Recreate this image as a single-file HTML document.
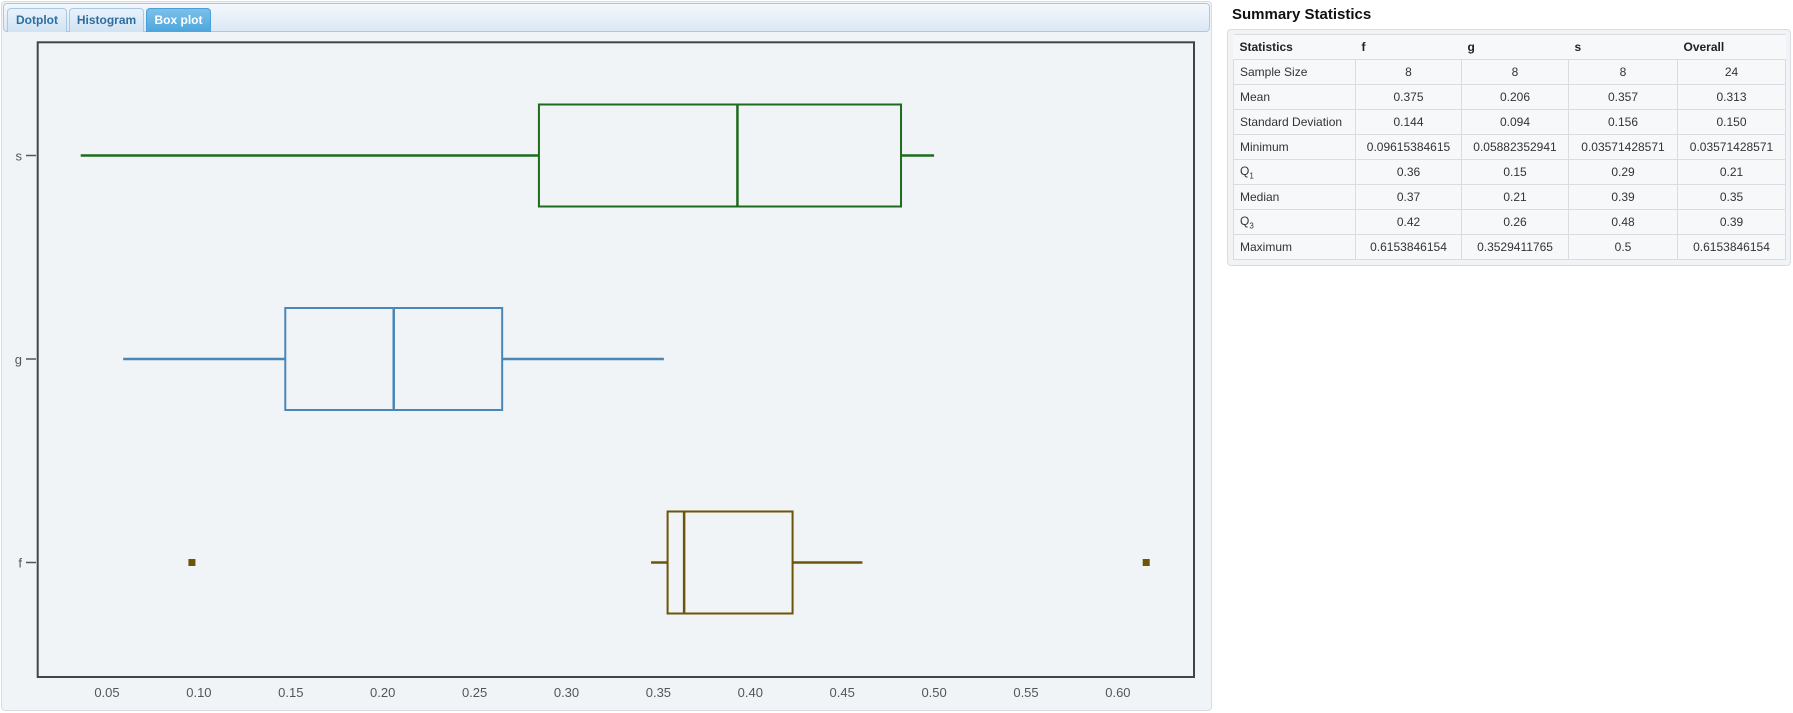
<!DOCTYPE html>
<html><head><meta charset="utf-8">
<style>
body{margin:0;width:1793px;height:713px;background:#fff;font-family:"Liberation Sans",sans-serif;position:relative;overflow:hidden}
#panel{position:absolute;left:1px;top:1px;width:1209px;height:708px;border:1px solid #d6dde6;border-radius:4px;background:#f1f4f7}
#tabbar{position:absolute;left:3px;top:3px;width:1205px;height:27px;border:1px solid #a9c8e6;border-radius:4px;background:linear-gradient(#f4f8fc,#dbe8f5)}
.tab{position:absolute;top:4px;height:23px;border:1px solid #a9c8e6;border-bottom:none;border-radius:4px 4px 0 0;background:linear-gradient(#e9f2fb,#d2e3f3);font-size:12px;font-weight:bold;color:#2e6e9e;text-align:center;line-height:23px}
.tab.active{background:linear-gradient(#7cc0ea,#4ba6dd);color:#fff;border-color:#4a9fd8}
#title{position:absolute;left:1232px;top:6px;font-size:15px;font-weight:bold;color:#111}
#tbox{position:absolute;left:1227px;top:29px;width:562px;height:235px;border:1px solid #d8dde3;border-radius:4px;background:#f1f3f5}
table{position:absolute;left:1233px;top:34px;border-collapse:collapse;font-size:12px;color:#333;background:#f7f8fa}
td{border:1px solid #d9dde2;height:24px;padding:0 6px;text-align:center}
td:first-child{text-align:left}
tr.h td{border-left:none;border-right:none;font-weight:bold;color:#222;text-align:left;height:24px}
</style></head><body>
<div id="panel"></div>
<div id="tabbar">
<div class="tab" style="left:3px;width:58px">Dotplot</div>
<div class="tab" style="left:65px;width:73px">Histogram</div>
<div class="tab active" style="left:142px;width:63px">Box plot</div>
</div>
<svg id="chart" width="1210" height="713" style="position:absolute;left:0;top:0">
<rect x="37.7" y="42.3" width="1156.3" height="634.7" fill="#f0f4f7" stroke="#444" stroke-width="2"/>
<g id="marks"></g>
</svg>
<div id="title">Summary Statistics</div>
<div id="tbox"></div>
<table>
<colgroup><col style="width:122px"><col style="width:106px"><col style="width:107px"><col style="width:109px"><col style="width:108px"></colgroup>
<tr class="h"><td>Statistics</td><td>f</td><td>g</td><td>s</td><td>Overall</td></tr>
<tr><td>Sample Size</td><td>8</td><td>8</td><td>8</td><td>24</td></tr>
<tr><td>Mean</td><td>0.375</td><td>0.206</td><td>0.357</td><td>0.313</td></tr>
<tr><td>Standard Deviation</td><td>0.144</td><td>0.094</td><td>0.156</td><td>0.150</td></tr>
<tr><td>Minimum</td><td>0.09615384615</td><td>0.05882352941</td><td>0.03571428571</td><td>0.03571428571</td></tr>
<tr><td>Q<sub style="font-size:8px">1</sub></td><td>0.36</td><td>0.15</td><td>0.29</td><td>0.21</td></tr>
<tr><td>Median</td><td>0.37</td><td>0.21</td><td>0.39</td><td>0.35</td></tr>
<tr><td>Q<sub style="font-size:8px">3</sub></td><td>0.42</td><td>0.26</td><td>0.48</td><td>0.39</td></tr>
<tr><td>Maximum</td><td>0.6153846154</td><td>0.3529411765</td><td>0.5</td><td>0.6153846154</td></tr>
</table>
<script>
const categories=["s","g","f"];
const lowWhisker=[0.0357,0.0588,0.346];
const q1Values=[0.285,0.147,0.355];
const medianValues=[0.393,0.206,0.364];
const q3Values=[0.482,0.265,0.423];
const highWhisker=[0.500,0.353,0.461];
const outlierValues=[[],[],[0.0962,0.6154]];
const colors=["#1e6b1e","#4a86b8","#6b5608"];
const xTicks=[0.05,0.10,0.15,0.20,0.25,0.30,0.35,0.40,0.45,0.50,0.55,0.60];
const xs=v=>15.1+v*1838;
const ys=i=>155.5+i*203.5;
const NS="http://www.w3.org/2000/svg";
const g=document.getElementById("marks");
function mk(t,a){const e=document.createElementNS(NS,t);for(const k in a)e.setAttribute(k,a[k]);g.appendChild(e);return e;}
xTicks.forEach(v=>{
 const t=mk("text",{x:xs(v),y:697,"text-anchor":"middle","font-size":"13",fill:"#555","font-family":"Liberation Sans, sans-serif"});
 t.textContent=v.toFixed(2);
 
 
});
categories.forEach((c,i)=>{
 const y=ys(i),col=colors[i],h=51;
 const tl=mk("text",{x:22,y:y+5,"text-anchor":"end","font-size":"13",fill:"#555","font-family":"Liberation Sans, sans-serif"});
 tl.textContent=c;
 
 
 const tk=mk("line",{x1:26,x2:36,y1:y,y2:y,stroke:"#555","stroke-width":1.5});
 
 
 const w1=mk("line",{x1:xs(lowWhisker[i]),x2:xs(q1Values[i]),y1:y,y2:y,stroke:col,"stroke-width":2.5});
 
 
 const w2=mk("line",{x1:xs(q3Values[i]),x2:xs(highWhisker[i]),y1:y,y2:y,stroke:col,"stroke-width":2.5});
 
 
 const b=mk("rect",{x:xs(q1Values[i]),y:y-h,width:xs(q3Values[i])-xs(q1Values[i]),height:2*h,fill:"none",stroke:col,"stroke-width":2});
 
 
 const m=mk("line",{x1:xs(medianValues[i]),x2:xs(medianValues[i]),y1:y-h,y2:y+h,stroke:col,"stroke-width":2.5});
 
 
 outlierValues[i].forEach(v=>{
  const o=mk("rect",{x:xs(v)-3.5,y:y-3.5,width:7,height:7,fill:col});
  
  
 });
});
</script>
</body></html>
